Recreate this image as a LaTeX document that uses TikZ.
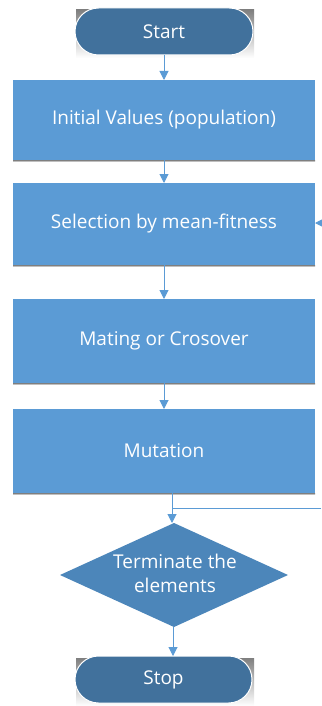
\documentclass[tikz,border=0pt]{standalone}
\usepackage{fontspec}
\setmainfont{Open Sans}
\usetikzlibrary{arrows.meta,shapes.geometric}
\definecolor{boxblue}{HTML}{5B9BD5}
\definecolor{termblue}{HTML}{41719C}
\definecolor{diablue}{HTML}{4C86BA}
\definecolor{shade}{HTML}{D5DEE8}
\tikzset{
  every node/.style={inner sep=0pt, outer sep=0pt},
  term/.style={rectangle, rounded corners=23.5pt, fill=termblue, draw=white, line width=1pt, text=white, font=\fontsize{19}{23}\selectfont},
  procbox/.style={rectangle, fill=boxblue, text=white, minimum width=302pt, font=\fontsize{19}{23}\selectfont},
  decision/.style={diamond, aspect=2.2, fill=diablue, text=white, align=center},
  flow/.style={draw=boxblue, line width=1pt, -{Triangle[length=9pt,width=9pt]}},
  flowline/.style={draw=boxblue, line width=1pt},
}
\begin{document}
\begin{tikzpicture}[x=1pt,y=-1pt]
\useasboundingbox (0,0) rectangle (321,706);
% shadows
\fill[shade] (76,10) rectangle (254,58);
\fill[shade] (13,160) rectangle (315,162);
\fill[shade] (13,265) rectangle (315,267);
\fill[shade] (13,383) rectangle (315,385);
\fill[shade] (13,493) rectangle (315,495);
\fill[shade] (76,658) rectangle (254,706);
% nodes
\node[term, minimum width=178pt, minimum height=47pt] (start) at (164,31.5) {Start};
\node[procbox, minimum height=80pt] (b1) at (164,120) {Initial Values (population)};
\node[procbox, minimum height=82pt] (b2) at (164,224) {Selection by mean-fitness};
\node[procbox, minimum height=84pt] (b3) at (164,341) {Mating or Crosover};
\node[procbox, minimum height=84pt] (b4) at (164,451) {Mutation};
\node[decision, minimum width=228pt, minimum height=104pt] (dec) at (174,575) {};
\node[text=white, align=center, font=\fontsize{19}{24}\selectfont] (dectext) at (175,573) {Terminate the\\elements};
\node[term, minimum width=177pt, minimum height=47pt] (stop) at (163.5,679.5) {Stop};
% connectors
\path[flow] (start.south) -- (b1.north);
\path[flow] (b1.south) -- (b2.north);
\path[flow] ([yshift=7pt]b2.south) -- (b3.north);
\path[flow] ([yshift=3pt]b3.south) -- (b4.north);
\coordinate (d1) at (172,493);
\coordinate (d2) at (172,523);
\path[flow] (d1) -- (d2);
\coordinate (loopin) at (321,508);
\coordinate (loopjoin) at (172,508);
\path[flowline] (loopin) -- (loopjoin);
\coordinate (loopout) at (321,223);
\path[flow] (loopout) -- (b2.east |- loopout);
\coordinate (s1) at (173,627);
\coordinate (s2) at (173,656);
\path[flow] (s1) -- (s2);
\end{tikzpicture}
\end{document}
